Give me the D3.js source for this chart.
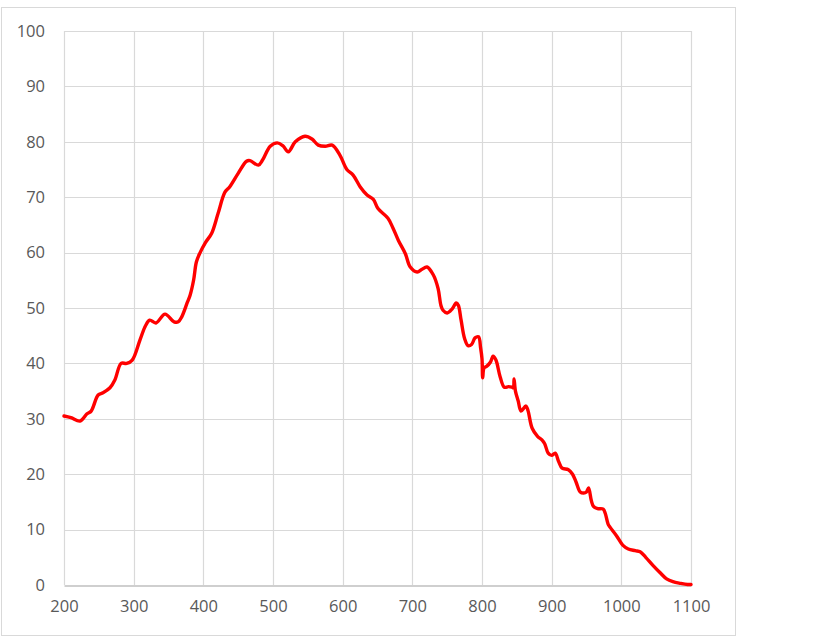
<!DOCTYPE html>
<html>
<head>
<meta charset="utf-8">
<script src="https://cdn.jsdelivr.net/npm/d3@7"></script>
<style>
  html, body { margin: 0; padding: 0; background: #fff; }
  svg { display: block; }
</style>
</head>
<body>
<svg id="chart" width="823" height="643"></svg>
<script>
// Data
const xValues = [200, 210, 223, 233, 239, 249, 256, 266, 273, 282, 290, 298, 309, 317, 323, 332, 345, 358, 364, 369, 377, 381, 386, 390, 395, 403, 412, 421, 431, 438, 450, 462, 467, 479, 485, 496, 506, 514, 522, 532, 546, 556, 565, 575, 585, 596, 606, 615, 625, 635, 644, 651, 665, 672, 680, 690, 697, 707, 714, 721, 730, 737, 741, 744, 750, 757, 763, 766, 770, 775, 780, 785, 790, 795, 798, 800, 801, 803, 807, 812, 816, 820, 826, 832, 838, 843, 845, 846, 848, 852, 856, 863, 866, 872, 880, 886, 890, 895, 900, 905, 910, 915, 924, 930, 935, 941, 946, 950, 953, 957, 960, 966, 974, 977, 981, 984, 993, 1002, 1010, 1020, 1027, 1035, 1045, 1055, 1065, 1074, 1085, 1095, 1100];
const yValues = [30.5, 30.2, 29.6, 30.9, 31.4, 34.3, 34.7, 35.6, 37.0, 40.0, 40.0, 40.6, 44.2, 46.8, 47.8, 47.3, 48.9, 47.5, 47.5, 48.4, 51.0, 52.3, 55.0, 58.3, 59.9, 61.8, 63.5, 67.0, 70.9, 71.9, 74.3, 76.5, 76.6, 75.8, 76.7, 79.2, 79.8, 79.3, 78.2, 80.0, 81.0, 80.5, 79.4, 79.2, 79.4, 77.6, 75.0, 74.0, 71.9, 70.4, 69.6, 67.9, 66.2, 64.5, 62.2, 59.8, 57.4, 56.5, 57.0, 57.4, 56.0, 53.5, 50.5, 49.6, 49.1, 49.8, 50.9, 50.5, 47.8, 44.5, 43.2, 43.4, 44.6, 44.8, 42.8, 40.8, 37.4, 39.2, 39.5, 40.2, 41.3, 40.6, 37.6, 35.7, 35.8, 35.7, 35.6, 37.2, 35.0, 33.2, 31.4, 32.3, 31.5, 28.3, 26.8, 26.2, 25.5, 23.8, 23.4, 23.8, 22.3, 21.1, 20.8, 20.0, 18.6, 16.8, 16.6, 16.8, 17.5, 15.2, 14.2, 13.8, 13.7, 12.9, 11.0, 10.4, 8.9, 7.2, 6.5, 6.2, 6.0, 5.0, 3.6, 2.3, 1.1, 0.6, 0.3, 0.1, 0.1];
const xTicks = [200, 300, 400, 500, 600, 700, 800, 900, 1000, 1100];
const yTicks = [0, 10, 20, 30, 40, 50, 60, 70, 80, 90, 100];

const data = xValues.map((x, i) => ({ x, y: yValues[i] }));

const svg = d3.select("#chart");
const margin = { left: 64, right: 132, top: 31, bottom: 58 };
const W = 823, H = 643;

// outer chart border
svg.append("rect")
  .attr("x", 1.5).attr("y", 7.5)
  .attr("width", 734).attr("height", 628)
  .attr("fill", "#fff")
  .attr("stroke", "#d9d9d9")
  .attr("stroke-width", 1);

const x = d3.scaleLinear().domain([200, 1100]).range([margin.left, W - margin.right]);
const y = d3.scaleLinear().domain([0, 100]).range([H - margin.bottom, margin.top]);

// gridlines
const g = svg.append("g");
g.selectAll(".hgrid").data(yTicks.filter(d => d > 0)).enter().append("line")
  .attr("x1", x(200)).attr("x2", x(1100))
  .attr("y1", d => Math.round(y(d)) + 0.5).attr("y2", d => Math.round(y(d)) + 0.5)
  .attr("stroke", "#d9d9d9").attr("stroke-width", 1.2);
g.selectAll(".vgrid").data(xTicks).enter().append("line")
  .attr("x1", d => Math.round(x(d)) + 0.5).attr("x2", d => Math.round(x(d)) + 0.5)
  .attr("y1", y(100)).attr("y2", y(0))
  .attr("stroke", "#d9d9d9").attr("stroke-width", 1.2);

// x axis
const xAxis = svg.append("g")
  .attr("transform", `translate(0,${Math.round(y(0)) + 0.5})`)
  .call(d3.axisBottom(x).tickValues(xTicks).tickSize(0).tickPadding(15).tickFormat(d3.format("d")));
xAxis.select(".domain").attr("stroke", "#bfbfbf").attr("stroke-width", 1.3);

// y axis
const yAxis = svg.append("g")
  .attr("transform", `translate(${margin.left},0)`)
  .call(d3.axisLeft(y).tickValues(yTicks).tickSize(0).tickPadding(19).tickFormat(d3.format("d")));
yAxis.select(".domain").remove();

svg.selectAll(".tick text")
  .attr("fill", "#595959")
  .style("font-family", "'Open Sans', 'Noto Sans', sans-serif")
  .style("font-size", "16.5px");

// line
const line = d3.line()
  .x(d => x(d.x))
  .y(d => y(d.y))
  .curve(d3.curveCatmullRom.alpha(0.5));

svg.append("path")
  .datum(data)
  .attr("fill", "none")
  .attr("stroke", "#ff0000")
  .attr("stroke-width", 3.4)
  .attr("stroke-linejoin", "round")
  .attr("stroke-linecap", "round")
  .attr("d", line);
</script>
</body>
</html>
